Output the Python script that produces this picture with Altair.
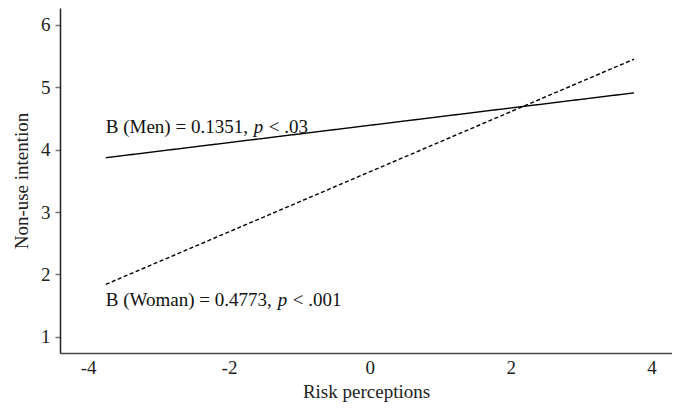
import altair as alt
import pandas as pd

# Data
x_vals = [-3.75, 3.75]
men_vals = [3.87, 4.91]
woman_vals = [1.84, 5.45]

x_ticks = [-4, -2, 0, 2, 4]
y_ticks = [1, 2, 3, 4, 5, 6]

label_x = [-3.75, -3.75]
label_y = [4.37, 1.59]
label_prefix = ["B (Men) = 0.1351, ", "B (Woman) = 0.4773, "]
label_p = ["p", "p"]
label_suffix = ["< .03", "< .001"]

FONT = "Liberation Serif"
FS = 19
AFS = 19

lines = pd.DataFrame({
    "x": x_vals * 2,
    "y": men_vals + woman_vals,
    "group": ["Men"] * 2 + ["Woman"] * 2,
})

xscale = alt.Scale(domain=[-4.4, 4.29], nice=False, zero=False)
yscale = alt.Scale(domain=[0.74, 6.27], nice=False, zero=False)

xenc = alt.X("x:Q", scale=xscale, axis=alt.Axis(
    title="Risk perceptions", values=x_ticks, ticks=False,
    labelExpr="toString(datum.value)",
    domainColor="#444", domainWidth=1.5, labelFont=FONT, labelFontSize=FS,
    labelColor="#222", labelPadding=5, titleFont=FONT, titleFontSize=FS,
    titleFontWeight="normal", titleColor="#222", titlePadding=5, grid=False,
    labelFlush=False))
yenc = alt.Y("y:Q", scale=yscale, axis=alt.Axis(
    title="Non-use intention", values=y_ticks, tickSize=5,
    labelExpr="toString(datum.value)",
    tickColor="#777", tickWidth=1.5, domainColor="#222", domainWidth=1.5,
    labelFont=FONT, labelFontSize=FS, labelColor="#222", labelPadding=5,
    titleFont=FONT, titleFontSize=FS, titleFontWeight="normal",
    titleColor="#222", titlePadding=9, grid=False, labelFlush=False))

line_chart = alt.Chart(lines).mark_line(color="black", strokeWidth=1.4).encode(
    x=xenc, y=yenc,
    strokeDash=alt.StrokeDash("group:N", scale=alt.Scale(
        domain=["Men", "Woman"], range=[[1, 0], [4, 2.5]]), legend=None),
    detail="group:N",
)

layers = [line_chart]
# pixel offsets of the italic "p" and the suffix within each label
offsets = [(148, 163), (172, 187)]
for i in range(len(label_prefix)):
    row = pd.DataFrame({"x": [label_x[i]], "y": [label_y[i]],
                        "prefix": [label_prefix[i]], "p": [label_p[i]],
                        "suffix": [label_suffix[i]]})
    b = alt.Chart(row)
    enc = dict(x=alt.X("x:Q", scale=xscale), y=alt.Y("y:Q", scale=yscale))
    layers.append(b.mark_text(align="left", baseline="middle", font=FONT,
                              fontSize=AFS, color="#111").encode(text="prefix:N", **enc))
    layers.append(b.mark_text(align="left", baseline="middle", font=FONT,
                              fontSize=AFS, fontStyle="italic", color="#111",
                              dx=offsets[i][0]).encode(text="p:N", **enc))
    layers.append(b.mark_text(align="left", baseline="middle", font=FONT,
                              fontSize=AFS, color="#111",
                              dx=offsets[i][1]).encode(text="suffix:N", **enc))

chart = alt.layer(*layers).properties(
    width=612, height=345,
    autosize=alt.AutoSizeParams(type="none"),
    padding={"left": 52, "top": 0, "right": 0, "bottom": 49},
).configure_view(stroke=None)

chart.save("out.html", embed_options={"renderer": "svg", "actions": False})
